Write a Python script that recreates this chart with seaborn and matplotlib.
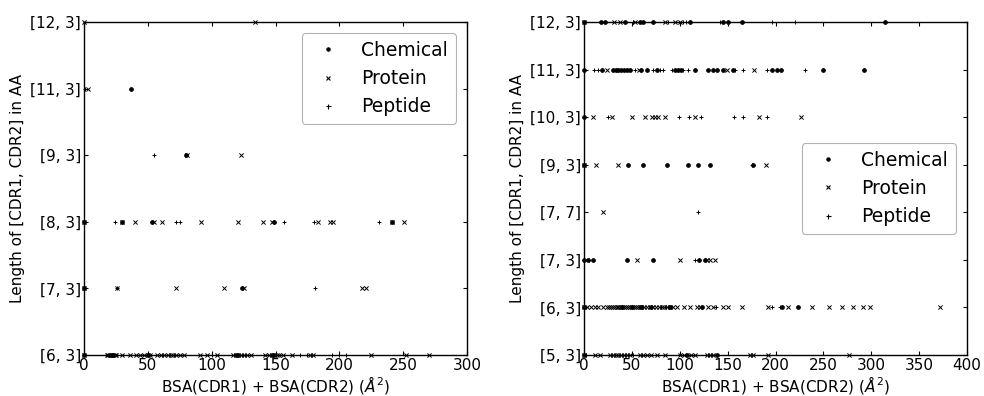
import numpy as np
import pandas as pd
import matplotlib
matplotlib.use("Agg")
import matplotlib.pyplot as plt
from matplotlib.lines import Line2D
import seaborn as sns

# ---------------- data ----------------
left_categories = ['[6, 3]', '[7, 3]', '[8, 3]', '[9, 3]', '[11, 3]', '[12, 3]']
right_categories = ['[5, 3]', '[6, 3]', '[7, 3]', '[7, 7]', '[9, 3]', '[10, 3]', '[11, 3]', '[12, 3]']
types = ['Chemical', 'Protein', 'Peptide']

# left panel: BSA values per length category
left_chemical = {
    '[6, 3]': [0, 22, 50, 120, 148],
    '[7, 3]': [0, 124],
    '[8, 3]': [0, 30, 53, 149, 241],
    '[9, 3]': [80],
    '[11, 3]': [37],
    '[12, 3]': [],
}
left_protein = {
    '[6, 3]': [0, 18, 19, 20, 21, 22, 23, 24, 25, 30, 36, 41, 44, 47, 50, 52, 57, 60, 63,
               66, 68, 70, 72, 75, 78, 91, 96, 104, 117, 119, 121, 123, 125, 128, 131, 142,
               145, 147, 149, 151, 153, 156, 163, 177, 179, 225, 252, 270],
    '[7, 3]': [0, 26, 72, 110, 125, 218, 221],
    '[8, 3]': [0, 30, 40, 55, 61, 92, 121, 140, 147, 183, 193, 195, 241, 251],
    '[9, 3]': [81, 123],
    '[11, 3]': [3],
    '[12, 3]': [0, 134],
}
left_peptide = {
    '[6, 3]': [100, 169, 175, 194, 200, 205],
    '[7, 3]': [26, 181],
    '[8, 3]': [24, 72, 75, 157, 180, 231],
    '[9, 3]': [55],
    '[11, 3]': [1],
    '[12, 3]': [],
}

# right panel
right_chemical = {
    '[5, 3]': [0, 108, 139],
    '[6, 3]': [0, 40, 50, 60, 70, 90, 123, 207, 224],
    '[7, 3]': [0, 4, 9, 45, 72, 120, 126],
    '[7, 7]': [],
    '[9, 3]': [0, 46, 62, 87, 109, 119, 132, 176],
    '[10, 3]': [0],
    '[11, 3]': [0, 19, 30, 33, 36, 39, 42, 45, 48, 60, 66, 76, 95, 98, 101, 116, 129, 135,
                139, 145, 156, 196, 202, 206, 250, 292],
    '[12, 3]': [0, 18, 22, 43, 58, 62, 72, 111, 145, 150, 165, 314],
}
right_protein = {
    '[5, 3]': [0, 12, 17, 27, 30, 33, 36, 39, 42, 45, 48, 58, 62, 66, 70, 76, 85, 100, 104,
               112, 116, 128, 132, 135, 173, 177, 192, 277],
    '[6, 3]': [0, 3, 7, 11, 15, 20, 24, 26, 28, 30, 32, 34, 36, 38, 40, 42, 44, 46, 48, 50,
               52, 54, 56, 58, 60, 63, 66, 69, 72, 75, 78, 81, 84, 87, 90, 93, 97, 104, 111,
               118, 121, 130, 135, 145, 150, 165, 192, 213, 238, 256, 269, 281, 291, 299, 372],
    '[7, 3]': [55, 100, 128, 132, 137],
    '[7, 7]': [20],
    '[9, 3]': [0, 13, 36, 190],
    '[10, 3]': [9, 29, 50, 64, 71, 74, 77, 85, 116, 183, 227],
    '[11, 3]': [24, 57, 149, 178],
    '[12, 3]': [0, 31, 38, 53, 85, 95, 100],
}
right_peptide = {
    '[5, 3]': [2, 51],
    '[6, 3]': [62, 80, 86, 138, 196, 205],
    '[7, 3]': [5, 116],
    '[7, 7]': [119],
    '[9, 3]': [175],
    '[10, 3]': [25, 99, 110, 122, 157, 166, 191],
    '[11, 3]': [10, 15, 53, 72, 79, 83, 92, 103, 109, 158, 166, 191, 231],
    '[12, 3]': [51, 88, 103, 107, 142, 196, 220],
}

markers = {'Chemical': 'o', 'Protein': 'x', 'Peptide': '+'}
legend_ms = {'Chemical': 2.4, 'Protein': 3.2, 'Peptide': 3.6}


def build(cats, chem, prot, pep):
    rows = []
    for t, d in zip(types, [chem, prot, pep]):
        for c in cats:
            for v in d[c]:
                rows.append((v, c, t))
    df = pd.DataFrame(rows, columns=['bsa', 'length', 'type'])
    df['length'] = pd.Categorical(df['length'], categories=cats, ordered=True)
    return df


left_df = build(left_categories, left_chemical, left_protein, left_peptide)
right_df = build(right_categories, right_chemical, right_protein, right_peptide)

# ---------------- style ----------------
sns.set_style('ticks', {'xtick.direction': 'in', 'ytick.direction': 'in',
                        'axes.edgecolor': 'k', 'text.color': 'k',
                        'axes.labelcolor': 'k', 'xtick.color': 'k', 'ytick.color': 'k'})
plt.rcParams['font.family'] = ['DejaVu Sans']

fig = plt.figure(figsize=(9.84, 3.96), dpi=100)
ax1 = fig.add_axes([84 / 984, 1 - 355 / 396, 383 / 984, 333 / 396])
ax2 = fig.add_axes([584 / 984, 1 - 355 / 396, 383 / 984, 333 / 396])


def draw(ax, df, cats, xmax, legend_loc):
    ax.yaxis.update_units(np.array(cats))
    for t in types:
        sub = df[df['type'] == t]
        sns.scatterplot(data=sub, x='bsa', y='length', ax=ax, marker=markers[t],
                        color='k', edgecolor='k', s=7 if t == 'Chemical' else 9,
                        linewidth=0.7, clip_on=False, zorder=3, legend=False)
    ax.set_xlim(0, xmax)
    ax.set_ylim(0, len(cats) - 1)
    ax.set_xticks(np.arange(0, xmax + 1, 50))
    ax.set_yticks(range(len(cats)))
    ax.set_yticklabels(cats)
    ax.tick_params(axis='both', which='both', direction='in', top=True, right=True,
                   length=3, width=0.8, labelsize=11, pad=2)
    for sp in ax.spines.values():
        sp.set_visible(True)
        sp.set_color('k')
        sp.set_linewidth(1.0)
    ax.set_xlabel(r'BSA(CDR1) + BSA(CDR2) ($\AA^2$)', fontsize=11, labelpad=1)
    ax.set_ylabel('Length of [CDR1, CDR2] in AA', fontsize=11, labelpad=4)
    handles = [Line2D([], [], linestyle='none', marker=markers[t], color='k',
                      markersize=legend_ms[t], markeredgewidth=0.8) for t in types]
    leg = ax.legend(handles, types, loc=legend_loc, fontsize=13.5, frameon=True,
                    numpoints=1, fancybox=True, framealpha=1, edgecolor='0.7',
                    borderaxespad=0.6)
    leg.get_frame().set_linewidth(0.8)


draw(ax1, left_df, left_categories, 300, 'upper right')
draw(ax2, right_df, right_categories, 400, 'center right')

fig.savefig('out.png', dpi=100)
